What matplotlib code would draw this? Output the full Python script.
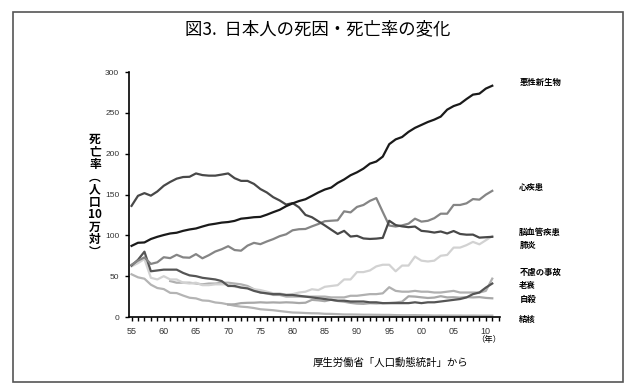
import numpy as np
import matplotlib
matplotlib.use("Agg")
import matplotlib.pyplot as plt
from matplotlib.patches import Rectangle

plt.rcParams['font.family'] = ['Noto Sans CJK JP', 'DejaVu Sans']

# 年 (1955-2011)
years = list(range(1955, 2012))

# 死亡率 (人口10万対)
cancer = [87.1, 90.9, 91.3, 95.5, 98.2, 100.4, 102.3, 103.2, 105.5, 107.2,
          108.4, 110.8, 113.0, 114.2, 115.6, 116.3, 117.7, 120.4, 121.2, 122.2,
          122.6, 125.3, 128.4, 131.3, 135.7, 139.1, 142.0, 144.2, 148.3, 152.5,
          156.1, 158.5, 164.2, 168.4, 173.6, 177.2, 181.7, 187.8, 190.4, 196.4,
          211.6, 217.5, 220.4, 226.7, 231.6, 235.2, 238.8, 241.7, 245.4, 253.9,
          258.3, 261.0, 266.9, 272.3, 273.5, 279.7, 283.2]
heart = [64, 69, 73, 65, 67, 73.2, 72.1, 76.2, 73.0, 72.6,
         77.0, 71.9, 75.7, 80.2, 83.0, 86.7, 82.0, 81.2, 87.4, 90.8,
         89.2, 92.5, 95.4, 99.0, 101.3, 106.2, 107.5, 107.8, 111.0, 113.9,
         117.3, 117.9, 118.4, 129.4, 128.1, 134.8, 137.2, 142.2, 145.6, 128.6,
         112.0, 110.8, 112.2, 114.3, 120.4, 116.8, 117.8, 121.0, 126.5, 126.5,
         137.2, 137.2, 139.2, 144.4, 143.7, 149.8, 154.5]
stroke = [136.1, 148.4, 151.7, 148.6, 153.7, 160.7, 165.4, 169.4, 171.4, 171.7,
          175.8, 173.8, 173.1, 173.1, 174.4, 175.8, 170.0, 166.7, 166.7, 163.0,
          156.7, 152.5, 146.7, 142.7, 137.7, 139.5, 134.3, 125.0, 122.2, 117.2,
          112.2, 106.9, 101.7, 105.5, 98.5, 99.4, 96.2, 95.6, 96.0, 96.9,
          117.9, 112.6, 111.0, 110.0, 110.8, 105.5, 104.7, 103.4, 104.7, 102.3,
          105.3, 101.7, 100.8, 100.9, 97.2, 97.7, 98.2]
pneumonia = [62, 66, 71, 48, 46, 50, 46, 46, 42, 41,
             42, 39, 39, 40, 40, 40, 37, 36, 36, 34,
             33, 31, 29, 29, 27, 28, 30, 31, 34, 33,
             37, 38, 39, 46, 46, 55, 55, 57, 62, 64,
             64, 56, 63, 63, 74, 69, 68, 69, 75, 76,
             85, 85, 88, 92, 89, 94, 99]
senility = [63, 70, 80, 56, 57, 58, 58, 58, 54, 51,
            50, 48, 47, 46, 44, 38, 38, 36, 35, 32,
            30, 29, 28, 28, 27, 27, 26, 25, 24, 23,
            22, 21, 20, 20, 19, 19, 19, 18, 18, 17,
            17, 17, 17, 17, 18, 17, 18, 18, 19, 20,
            21, 22, 24, 28, 30, 36, 41]
accident = [np.nan] * 6 + [
            44, 42, 42, 42,
            41, 40, 41, 41, 42, 42, 41, 40, 38, 34,
            30, 29, 27, 27, 25, 25, 25, 25, 25, 25,
            25, 24, 24, 24, 26, 26, 27, 28, 28, 29,
            36.5, 32, 31, 31, 32, 31, 31, 30, 30, 31,
            32, 30, 30, 30, 30, 32, 47]
suicide = [np.nan] * 15 + [
           15.3, 15.6, 17.0, 17.4, 17.5,
           18.0, 17.6, 17.9, 17.6, 18.0, 17.7, 17.1, 17.5, 21.0, 20.4,
           19.4, 21.2, 19.6, 18.7, 17.3, 16.4, 16.1, 16.9, 16.6, 16.9,
           17.2, 17.8, 18.8, 25.4, 25.0, 24.1, 23.3, 23.8, 25.5, 24.0,
           24.2, 23.7, 24.4, 24.0, 24.4, 23.4, 22.9]
tb = [52.3, 48.6, 46.9, 39.6, 35.5, 34.2, 29.6, 29.3, 26.3, 23.6,
      22.8, 20.3, 19.8, 17.8, 17.0, 15.4, 13.8, 12.7, 12.1, 11.0,
      9.5, 8.9, 8.3, 7.3, 6.4, 5.5, 5.3, 4.9, 4.6, 4.5,
      3.9, 3.8, 3.5, 3.1, 3.1, 3.0, 2.8, 2.8, 2.7, 2.6,
      2.6, 2.3, 2.2, 2.2, 2.3, 2.1, 2.0, 1.8, 1.9, 1.8,
      1.8, 1.8, 1.7, 1.8, 1.7, 1.7, 1.7]

xtick_years = list(range(1955, 2011, 5))
xtick_labels = ['55', '60', '65', '70', '75', '80', '85', '90', '95', '00', '05', '10']

# ラベル (名前, 表示位置の値)
labels = ['悪性新生物', '心疾患', '脳血管疾患', '肺炎', '不慮の事故', '老衰', '自殺', '結核']
label_pos = [287, 159, 104, 88, 55, 39, 21, -3]

fig = plt.figure(figsize=(6.35, 3.92), dpi=100)
fig.patch.set_facecolor('white')
fig.patches.append(Rectangle((13 / 635, 1 - 382 / 392), 610 / 635, 370 / 392,
                             transform=fig.transFigure, fill=False,
                             edgecolor='#555555', linewidth=1.2))

ax = fig.add_axes([0.2031, 0.1913, 0.5843, 0.625])

ax.plot(years, tb, color='#b4b4b4', lw=1.6)
ax.plot(years, suicide, color='#a8a8a8', lw=1.6)
ax.plot(years, accident, color='#b0b0b0', lw=1.6)
ax.plot(years, pneumonia, color='#d2d2d2', lw=1.6)
ax.plot(years, senility, color='#555555', lw=1.6)
ax.plot(years, heart, color='#858585', lw=1.6)
ax.plot(years, stroke, color='#484848', lw=1.6)
ax.plot(years, cancer, color='#1a1a1a', lw=1.6)

ax.set_xlim(1954.6, 2012.2)
ax.set_ylim(0, 300)
ax.spines['top'].set_visible(False)
ax.spines['right'].set_visible(False)
ax.spines['left'].set_linewidth(1.2)
ax.spines['bottom'].set_linewidth(1.2)
ax.set_yticks(range(0, 301, 50))
ax.tick_params(axis='y', labelsize=6, length=3, width=1, pad=4,
               labelcolor='#333333')
ax.set_xticks(xtick_years)
ax.set_xticklabels(xtick_labels)
ax.set_xticks(range(1955, 2013), minor=True)
ax.tick_params(axis='x', which='both', direction='out', length=3, width=1,
               labelsize=6.5, pad=4, labelcolor='#333333')
for t in ax.get_xticklabels() + ax.get_yticklabels():
    t.set_family(['Liberation Sans', 'DejaVu Sans'])

for name, pos in zip(labels, label_pos):
    ax.text(2015.2, pos, name, fontsize=6, fontweight='bold', va='center',
            ha='left', clip_on=False)

ax.text(2010.5, -27, '（年）', fontsize=6, ha='center', va='center', clip_on=False)

fig.text(0.5, 0.925, '図3.  日本人の死因・死亡率の変化', fontsize=12.5,
         ha='center', va='center')
fig.text(0.1496, 0.5, '死\n亡\n率\n︵\n人\n口\n10\n万\n対\n︶', fontsize=8.5,
         fontweight='bold', ha='center', va='center', linespacing=0.95)
fig.text(0.615, 0.074, '厚生労働省「人口動態統計」から', fontsize=7.5,
         ha='center', va='center')

fig.savefig('out.png', dpi=100)
